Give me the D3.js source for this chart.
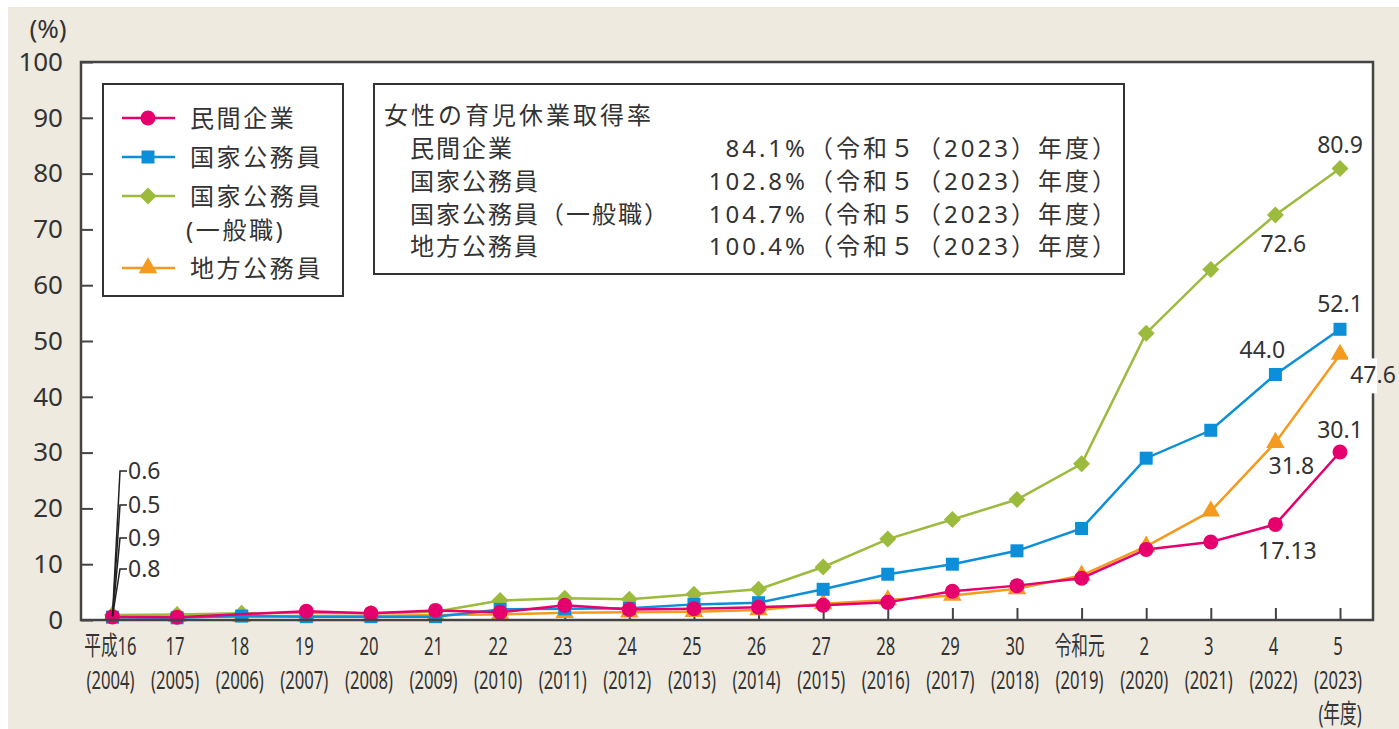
<!DOCTYPE html>
<html>
<head>
<meta charset="utf-8">
<script src="https://cdnjs.cloudflare.com/ajax/libs/d3/7.8.5/d3.min.js"></script>
<style>
  body { margin: 0; background: #fff; }
  svg text { font-family: "Noto Sans", "Noto Sans CJK JP", sans-serif; fill: #333; }
</style>
</head>
<body>
<script>
/* data */
const years = d3.range(2004, 2024);
const eraLabels = ["平成16", "17", "18", "19", "20", "21", "22", "23", "24", "25", "26", "27", "28", "29", "30", "令和元", "2", "3", "4", "5"];
const yearLabels = years.map(y => "(" + y + ")");
const yTicks = [0, 10, 20, 30, 40, 50, 60, 70, 80, 90, 100];

const minkan = [0.56, 0.50, null, 1.56, 1.23, 1.72, 1.38, 2.63, 1.89, 2.03, 2.30, 2.65, 3.16, 5.14, 6.16, 7.48, 12.65, 13.97, 17.13, 30.1];
const kokka = [0.5, 0.4, 0.7, 0.6, 0.6, 0.6, 1.9, 2.0, 2.1, 2.8, 3.1, 5.5, 8.2, 10.0, 12.4, 16.4, 29.0, 34.0, 44.0, 52.1];
const ippan = [0.9, 1.0, 1.2, 1.3, 1.2, 1.5, 3.5, 3.9, 3.7, 4.6, 5.5, 9.5, 14.5, 18.0, 21.6, 28.0, 51.4, 62.8, 72.6, 80.9];
const chiho = [0.8, 0.6, 0.6, 0.7, 0.7, 0.9, 1.0, 1.3, 1.4, 1.5, 1.8, 2.9, 3.6, 4.4, 5.6, 8.0, 13.2, 19.5, 31.8, 47.6];

const seriesNames = ["民間企業", "国家公務員", "国家公務員\n(一般職)", "地方公務員"];
const startValues = ["0.6", "0.5", "0.9", "0.8"];

const boxTitle = "女性の育児休業取得率";
const boxLabels = ["民間企業", "国家公務員", "国家公務員（一般職）", "地方公務員"];
const boxRates = ["84.1%", "102.8%", "104.7%", "100.4%"];
const boxPeriod = "（令和５（2023）年度）";

const width = 1399, height = 729;
const colors = { minkan: "#e5006e", kokka: "#0a8fd8", ippan: "#9cbb3c", chiho: "#f39a1f" };

let svg = d3.select("body").append("svg")
  .attr("width", width)
  .attr("height", height);

/* background */
svg.append("rect").attr("x", 8).attr("y", 7).attr("width", width - 8).attr("height", height - 7)
  .attr("fill", "#eeeae0");

const plot = { left: 81, top: 62, right: 1373, bottom: 620 };

let x = d3.scalePoint().domain(years).range([112.5, 1340]);
let y = d3.scaleLinear().domain([0, 100]).range([plot.bottom, plot.top]);

svg.append("rect")
  .attr("x", plot.left).attr("y", plot.top)
  .attr("width", plot.right - plot.left).attr("height", plot.bottom - plot.top)
  .attr("fill", "#fff");

/* axes */
let yAxis = svg.append("g")
  .attr("transform", `translate(${plot.left},0)`)
  .call(d3.axisLeft(y).tickValues(yTicks).tickSize(-12).tickPadding(18));
yAxis.select(".domain").remove();
yAxis.selectAll(".tick line").attr("stroke", "#444").attr("stroke-width", 2);
yAxis.selectAll(".tick text").style("font-size", "26px").attr("fill", "#333");

let xAxis = svg.append("g")
  .attr("transform", `translate(0,${plot.bottom})`)
  .call(d3.axisBottom(x).tickSize(-12).tickFormat(""));
xAxis.select(".domain").remove();
xAxis.selectAll(".tick line").attr("stroke", "#444").attr("stroke-width", 2);

// condensed two-line year labels
let xl = svg.append("g").selectAll("g")
  .data(years)
  .enter().append("g")
  .attr("transform", d => `translate(${x(d) - 2},0)`);
xl.append("text")
  .attr("transform", "translate(0,655) scale(0.64,1)")
  .attr("text-anchor", "middle")
  .style("font-size", "26px")
  .text((d, i) => eraLabels[i]);
xl.append("text")
  .attr("transform", "translate(0,689) scale(0.64,1)")
  .attr("text-anchor", "middle")
  .style("font-size", "26px")
  .text((d, i) => yearLabels[i]);
svg.append("text")
  .attr("transform", `translate(${x(2023)},723) scale(0.64,1)`)
  .attr("text-anchor", "middle")
  .style("font-size", "26px")
  .text("(年度)");

svg.append("text")
  .attr("x", 48).attr("y", 38)
  .attr("text-anchor", "middle")
  .style("font-size", "26px")
  .text("(%)");

/* series */
const series = [
  { key: "chiho", values: chiho, shape: "triangle" },
  { key: "ippan", values: ippan, shape: "diamond" },
  { key: "kokka", values: kokka, shape: "square" },
  { key: "minkan", values: minkan, shape: "circle" }
];

function marker(sel, shape, color) {
  if (shape === "circle") sel.append("circle").attr("r", 7.5).attr("fill", color);
  if (shape === "square") sel.append("rect").attr("x", -6.5).attr("y", -6.5).attr("width", 13).attr("height", 13).attr("fill", color);
  if (shape === "diamond") sel.append("rect").attr("x", -6).attr("y", -6).attr("width", 12).attr("height", 12)
    .attr("transform", "rotate(45)").attr("fill", color);
  if (shape === "triangle") sel.append("path").attr("d", d3.symbol(d3.symbolTriangle, 150)()).attr("fill", color);
}

let line = d3.line()
  .x(d => x(d.year))
  .y(d => y(d.v));

series.forEach(s => {
  let pts = years.map((yr, i) => ({ year: yr, v: s.values[i] })).filter(d => d.v != null);
  let g = svg.append("g");
  g.append("path")
    .attr("d", line(pts))
    .attr("fill", "none")
    .attr("stroke", colors[s.key])
    .attr("stroke-width", 2.5);
  g.selectAll("g.m")
    .data(pts)
    .enter().append("g")
    .attr("class", "m")
    .attr("transform", d => `translate(${x(d.year)},${y(d.v)})`)
    .each(function () { marker(d3.select(this), s.shape, colors[s.key]); });
});

/* frame */
svg.append("rect")
  .attr("x", plot.left).attr("y", plot.top)
  .attr("width", plot.right - plot.left).attr("height", plot.bottom - plot.top)
  .attr("fill", "none")
  .attr("stroke", "#444")
  .attr("stroke-width", 2.5);

/* start-year leader labels */
const leaderY = [471, 505, 538, 569];
startValues.forEach((v, i) => {
  svg.append("path")
    .attr("d", `M${x(2004)},${y(0.7)}L120,${leaderY[i]}L127,${leaderY[i]}`)
    .attr("fill", "none").attr("stroke", "#222").attr("stroke-width", 1.5);
  svg.append("text")
    .attr("x", 128).attr("y", leaderY[i]).attr("dy", "0.35em")
    .style("font-size", "23px")
    .text(v);
});

/* end labels */
const endLabels = [
  { values: ippan, i: 19, dx: 0, dy: -24 },
  { values: ippan, i: 18, dx: 8, dy: 29 },
  { values: kokka, i: 19, dx: 0, dy: -25 },
  { values: kokka, i: 18, dx: -13, dy: -25 },
  { values: chiho, i: 19, dx: 33, dy: 21, knock: true },
  { values: minkan, i: 19, dx: 0, dy: -22 },
  { values: chiho, i: 18, dx: 16, dy: 23 },
  { values: minkan, i: 18, dx: 12, dy: 27 }
];
endLabels.forEach(l => {
  let v = l.values[l.i];
  let cx = x(years[l.i]) + l.dx, cy = y(v) + l.dy;
  let txt = v === 17.13 ? "17.13" : v.toFixed(1);
  if (l.knock) {
    svg.append("rect").attr("x", cx - 25).attr("y", cy - 17).attr("width", 29).attr("height", 35).attr("fill", "#fff");
  }
  svg.append("text")
    .attr("x", cx).attr("y", cy).attr("dy", "0.35em")
    .attr("text-anchor", "middle")
    .style("font-size", "23px")
    .text(txt);
});

/* legend */
let legend = svg.append("g");
legend.append("rect")
  .attr("x", 103).attr("y", 84).attr("width", 240).attr("height", 212)
  .attr("fill", "#fff").attr("stroke", "#333").attr("stroke-width", 2);
const legendOrder = [
  { key: "minkan", shape: "circle", y: 118 },
  { key: "kokka", shape: "square", y: 157 },
  { key: "ippan", shape: "diamond", y: 196 },
  { key: "chiho", shape: "triangle", y: 268 }
];
legendOrder.forEach((d, i) => {
  legend.append("line")
    .attr("x1", 122).attr("x2", 175).attr("y1", d.y).attr("y2", d.y)
    .attr("stroke", colors[d.key]).attr("stroke-width", 2.5);
  marker(legend.append("g").attr("transform", `translate(148,${d.y})`), d.shape, colors[d.key]);
  seriesNames[i].split("\n").forEach((t, j) => {
    legend.append("text")
      .attr("x", j ? 186 : 190).attr("y", d.y + j * 34).attr("dy", "0.36em")
      .style("font-size", "24px")
      .style("letter-spacing", "2.6px")
      .text(t);
  });
});

/* rate box */
let box = svg.append("g");
box.append("rect")
  .attr("x", 374).attr("y", 84).attr("width", 750).attr("height", 190)
  .attr("fill", "#fff").attr("stroke", "#333").attr("stroke-width", 2);
box.append("text")
  .attr("x", 384).attr("y", 115).attr("dy", "0.36em")
  .style("font-size", "24px")
  .style("letter-spacing", "3px")
  .text(boxTitle);
const rowY = [148, 181, 214, 246];
boxLabels.forEach((t, i) => {
  box.append("text").attr("x", 410).attr("y", rowY[i]).attr("dy", "0.36em")
    .style("font-size", "24px")
    .style("letter-spacing", "2px")
    .text(t);
  box.append("text").attr("x", 808).attr("y", rowY[i]).attr("dy", "0.36em")
    .attr("text-anchor", "end")
    .style("font-size", "24px")
    .style("letter-spacing", "3px")
    .text(boxRates[i]);
  box.append("text").attr("x", 809).attr("y", rowY[i]).attr("dy", "0.36em")
    .style("font-size", "24px")
    .style("letter-spacing", "3px")
    .text(boxPeriod);
});
</script>
</body>
</html>
